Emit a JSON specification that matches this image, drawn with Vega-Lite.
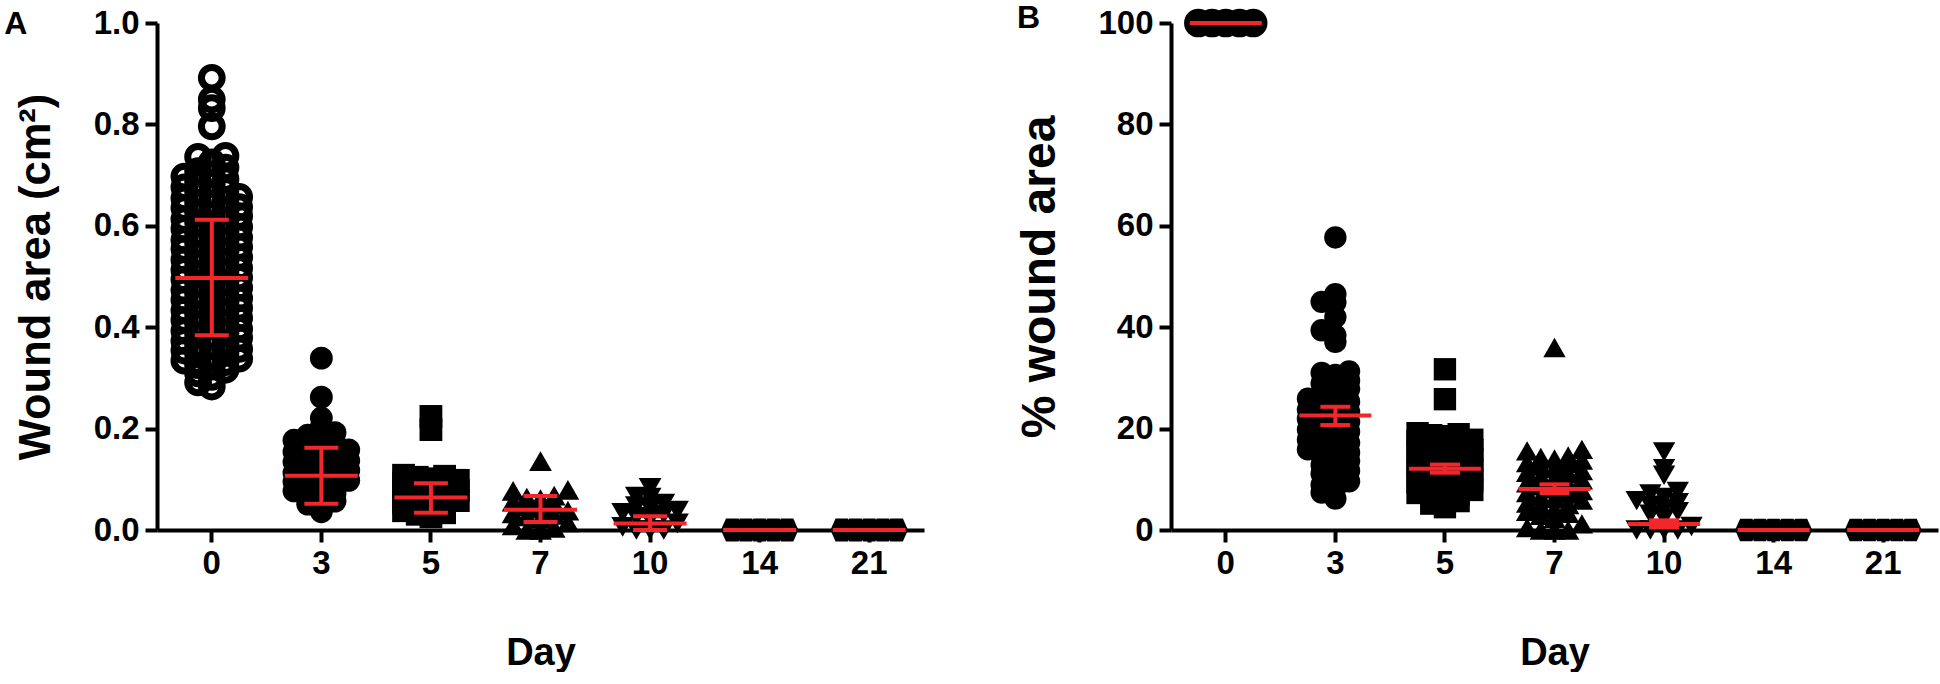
{
  "$schema": "https://vega.github.io/schema/vega-lite/v6.json",
  "padding": {"left": 4, "top": 1, "right": 2, "bottom": 0},
  "spacing": 92,
  "datasets": {
    "ptsA": [
      {"day":0,"value":0.283},{"day":0,"value":0.291},
      {"day":0,"value":0.302},{"day":0,"value":0.309},{"day":0,"value":0.316},
      {"day":0,"value":0.322},{"day":0,"value":0.325},{"day":0,"value":0.331},{"day":0,"value":0.334},{"day":0,"value":0.338},
      {"day":0,"value":0.341},{"day":0,"value":0.347},{"day":0,"value":0.349},{"day":0,"value":0.354},{"day":0,"value":0.357},
      {"day":0,"value":0.362},{"day":0,"value":0.364},{"day":0,"value":0.368},{"day":0,"value":0.373},{"day":0,"value":0.379},
      {"day":0,"value":0.381},{"day":0,"value":0.386},{"day":0,"value":0.389},{"day":0,"value":0.393},{"day":0,"value":0.397},
      {"day":0,"value":0.401},{"day":0,"value":0.406},{"day":0,"value":0.409},{"day":0,"value":0.414},{"day":0,"value":0.418},
      {"day":0,"value":0.422},{"day":0,"value":0.425},{"day":0,"value":0.431},{"day":0,"value":0.433},{"day":0,"value":0.438},
      {"day":0,"value":0.441},{"day":0,"value":0.445},{"day":0,"value":0.449},{"day":0,"value":0.454},{"day":0,"value":0.457},
      {"day":0,"value":0.463},{"day":0,"value":0.466},{"day":0,"value":0.47},{"day":0,"value":0.473},{"day":0,"value":0.478},
      {"day":0,"value":0.481},{"day":0,"value":0.486},{"day":0,"value":0.489},{"day":0,"value":0.494},{"day":0,"value":0.498},
      {"day":0,"value":0.502},{"day":0,"value":0.505},{"day":0,"value":0.51},{"day":0,"value":0.513},{"day":0,"value":0.517},
      {"day":0,"value":0.521},{"day":0,"value":0.526},{"day":0,"value":0.529},{"day":0,"value":0.533},{"day":0,"value":0.538},
      {"day":0,"value":0.542},{"day":0,"value":0.545},{"day":0,"value":0.549},{"day":0,"value":0.554},{"day":0,"value":0.558},
      {"day":0,"value":0.561},{"day":0,"value":0.566},{"day":0,"value":0.57},{"day":0,"value":0.572},{"day":0,"value":0.577},
      {"day":0,"value":0.582},{"day":0,"value":0.585},{"day":0,"value":0.589},{"day":0,"value":0.594},{"day":0,"value":0.598},
      {"day":0,"value":0.602},{"day":0,"value":0.607},{"day":0,"value":0.61},{"day":0,"value":0.613},{"day":0,"value":0.619},
      {"day":0,"value":0.621},{"day":0,"value":0.626},{"day":0,"value":0.629},{"day":0,"value":0.635},{"day":0,"value":0.637},
      {"day":0,"value":0.642},{"day":0,"value":0.645},{"day":0,"value":0.651},{"day":0,"value":0.654},{"day":0,"value":0.657},
      {"day":0,"value":0.662},{"day":0,"value":0.667},{"day":0,"value":0.671},{"day":0,"value":0.676},
      {"day":0,"value":0.683},{"day":0,"value":0.686},{"day":0,"value":0.692},{"day":0,"value":0.697},
      {"day":0,"value":0.702},{"day":0,"value":0.708},{"day":0,"value":0.715},
      {"day":0,"value":0.725},{"day":0,"value":0.736},{"day":0,"value":0.738},
      {"day":0,"value":0.796},{"day":0,"value":0.832},{"day":0,"value":0.849},{"day":0,"value":0.892},

      {"day":3,"value":0.036},
      {"day":3,"value":0.044},{"day":3,"value":0.051},{"day":3,"value":0.057},
      {"day":3,"value":0.063},{"day":3,"value":0.069},{"day":3,"value":0.072},{"day":3,"value":0.077},
      {"day":3,"value":0.082},{"day":3,"value":0.087},{"day":3,"value":0.09},{"day":3,"value":0.095},{"day":3,"value":0.098},
      {"day":3,"value":0.102},{"day":3,"value":0.106},{"day":3,"value":0.111},{"day":3,"value":0.113},{"day":3,"value":0.118},
      {"day":3,"value":0.121},{"day":3,"value":0.126},{"day":3,"value":0.129},{"day":3,"value":0.134},{"day":3,"value":0.137},
      {"day":3,"value":0.142},{"day":3,"value":0.145},{"day":3,"value":0.151},{"day":3,"value":0.154},{"day":3,"value":0.158},
      {"day":3,"value":0.163},{"day":3,"value":0.167},{"day":3,"value":0.171},{"day":3,"value":0.177},
      {"day":3,"value":0.183},{"day":3,"value":0.187},{"day":3,"value":0.192},
      {"day":3,"value":0.204},{"day":3,"value":0.221},{"day":3,"value":0.262},{"day":3,"value":0.339},

      {"day":5,"value":0.026},{"day":5,"value":0.031},{"day":5,"value":0.034},{"day":5,"value":0.038},
      {"day":5,"value":0.042},{"day":5,"value":0.047},{"day":5,"value":0.05},{"day":5,"value":0.053},{"day":5,"value":0.058},
      {"day":5,"value":0.062},{"day":5,"value":0.065},{"day":5,"value":0.071},{"day":5,"value":0.074},{"day":5,"value":0.078},
      {"day":5,"value":0.081},{"day":5,"value":0.086},{"day":5,"value":0.089},{"day":5,"value":0.093},{"day":5,"value":0.098},
      {"day":5,"value":0.101},{"day":5,"value":0.104},{"day":5,"value":0.106},{"day":5,"value":0.108},
      {"day":5,"value":0.198},{"day":5,"value":0.224},

      {"day":7,"value":0},{"day":7,"value":0},{"day":7,"value":0.004},{"day":7,"value":0.009},{"day":7,"value":0.015},
      {"day":7,"value":0.022},{"day":7,"value":0.027},{"day":7,"value":0.03},{"day":7,"value":0.033},{"day":7,"value":0.038},
      {"day":7,"value":0.042},{"day":7,"value":0.047},{"day":7,"value":0.051},{"day":7,"value":0.056},
      {"day":7,"value":0.061},{"day":7,"value":0.064},{"day":7,"value":0.068},{"day":7,"value":0.077},{"day":7,"value":0.079},
      {"day":7,"value":0.136},

      {"day":10,"value":0},{"day":10,"value":0},{"day":10,"value":0},{"day":10,"value":0.006},{"day":10,"value":0.013},
      {"day":10,"value":0.022},{"day":10,"value":0.026},{"day":10,"value":0.031},{"day":10,"value":0.034},{"day":10,"value":0.038},
      {"day":10,"value":0.043},{"day":10,"value":0.047},{"day":10,"value":0.052},
      {"day":10,"value":0.064},{"day":10,"value":0.066},{"day":10,"value":0.083},

      {"day":14,"value":0},{"day":14,"value":0},{"day":14,"value":0},{"day":14,"value":0},{"day":14,"value":0},
      {"day":21,"value":0},{"day":21,"value":0},{"day":21,"value":0},{"day":21,"value":0},{"day":21,"value":0}
    ],
    "statA": [
      {"day":0,"mean":0.497,"lo":0.384,"hi":0.612},
      {"day":3,"mean":0.107,"lo":0.052,"hi":0.162},
      {"day":5,"mean":0.064,"lo":0.034,"hi":0.092},
      {"day":7,"mean":0.040,"lo":0.016,"hi":0.067},
      {"day":10,"mean":0.013,"lo":0.0,"hi":0.027},
      {"day":14,"mean":0,"lo":0,"hi":0},
      {"day":21,"mean":0,"lo":0,"hi":0}
    ],
    "ptsB": [
      {"day":0,"value":100},{"day":0,"value":100},{"day":0,"value":100},{"day":0,"value":100},{"day":0,"value":100},

      {"day":3,"value":6.2},{"day":3,"value":7.4},
      {"day":3,"value":8.3},{"day":3,"value":8.9},{"day":3,"value":9.6},
      {"day":3,"value":10.4},{"day":3,"value":11.1},{"day":3,"value":11.7},
      {"day":3,"value":12.3},{"day":3,"value":12.8},{"day":3,"value":13.6},
      {"day":3,"value":14.2},{"day":3,"value":14.6},{"day":3,"value":15.3},{"day":3,"value":15.9},
      {"day":3,"value":16.1},{"day":3,"value":16.8},{"day":3,"value":17.2},{"day":3,"value":17.8},
      {"day":3,"value":18.3},{"day":3,"value":18.7},{"day":3,"value":19.4},{"day":3,"value":19.8},
      {"day":3,"value":20.2},{"day":3,"value":20.9},{"day":3,"value":21.3},{"day":3,"value":21.9},
      {"day":3,"value":22.1},{"day":3,"value":22.8},{"day":3,"value":23.3},{"day":3,"value":23.7},
      {"day":3,"value":24.4},{"day":3,"value":24.8},{"day":3,"value":25.3},{"day":3,"value":25.9},
      {"day":3,"value":26.4},{"day":3,"value":27.1},{"day":3,"value":27.8},
      {"day":3,"value":28.2},{"day":3,"value":28.9},{"day":3,"value":29.5},
      {"day":3,"value":30.6},{"day":3,"value":31.0},{"day":3,"value":31.3},
      {"day":3,"value":37.1},{"day":3,"value":38.4},{"day":3,"value":39.4},{"day":3,"value":42.0},
      {"day":3,"value":44.9},{"day":3,"value":45.0},{"day":3,"value":46.5},{"day":3,"value":57.7},

      {"day":5,"value":4.5},{"day":5,"value":5.2},{"day":5,"value":5.7},
      {"day":5,"value":6.1},{"day":5,"value":6.7},{"day":5,"value":7.0},{"day":5,"value":7.3},{"day":5,"value":7.9},
      {"day":5,"value":8.2},{"day":5,"value":8.5},{"day":5,"value":9.1},{"day":5,"value":9.4},{"day":5,"value":9.8},
      {"day":5,"value":10.3},{"day":5,"value":10.6},{"day":5,"value":11.0},{"day":5,"value":11.5},{"day":5,"value":11.8},
      {"day":5,"value":12.1},{"day":5,"value":12.7},{"day":5,"value":13.0},{"day":5,"value":13.3},{"day":5,"value":13.9},
      {"day":5,"value":14.2},{"day":5,"value":14.5},{"day":5,"value":15.1},{"day":5,"value":15.4},{"day":5,"value":15.8},
      {"day":5,"value":16.3},{"day":5,"value":16.6},{"day":5,"value":16.9},{"day":5,"value":17.5},{"day":5,"value":17.8},
      {"day":5,"value":18.5},{"day":5,"value":18.7},{"day":5,"value":18.9},{"day":5,"value":19.1},
      {"day":5,"value":25.8},{"day":5,"value":31.7},

      {"day":7,"value":0},{"day":7,"value":0},{"day":7,"value":0},{"day":7,"value":0.5},{"day":7,"value":1.2},
      {"day":7,"value":2.3},{"day":7,"value":2.9},{"day":7,"value":3.3},{"day":7,"value":3.7},
      {"day":7,"value":4.1},{"day":7,"value":4.7},{"day":7,"value":5.0},{"day":7,"value":5.3},{"day":7,"value":5.9},
      {"day":7,"value":6.2},{"day":7,"value":6.5},{"day":7,"value":7.1},{"day":7,"value":7.4},{"day":7,"value":7.8},
      {"day":7,"value":8.1},{"day":7,"value":8.7},{"day":7,"value":9.0},{"day":7,"value":9.3},{"day":7,"value":9.9},
      {"day":7,"value":10.2},{"day":7,"value":10.5},{"day":7,"value":11.1},{"day":7,"value":11.4},{"day":7,"value":11.7},
      {"day":7,"value":12.1},{"day":7,"value":12.6},{"day":7,"value":13.1},{"day":7,"value":13.3},{"day":7,"value":13.8},
      {"day":7,"value":14.0},{"day":7,"value":14.3},{"day":7,"value":14.6},{"day":7,"value":15.6},{"day":7,"value":15.9},
      {"day":7,"value":36.0},

      {"day":10,"value":0},{"day":10,"value":0},{"day":10,"value":0},{"day":10,"value":0},{"day":10,"value":0.7},
      {"day":10,"value":2.4},{"day":10,"value":3.1},{"day":10,"value":3.6},
      {"day":10,"value":4.3},{"day":10,"value":4.9},{"day":10,"value":5.4},{"day":10,"value":5.8},
      {"day":10,"value":6.4},{"day":10,"value":7.1},{"day":10,"value":7.6},
      {"day":10,"value":10.8},{"day":10,"value":12.1},{"day":10,"value":15.4},

      {"day":14,"value":0},{"day":14,"value":0},{"day":14,"value":0},{"day":14,"value":0},{"day":14,"value":0},
      {"day":21,"value":0},{"day":21,"value":0},{"day":21,"value":0},{"day":21,"value":0},{"day":21,"value":0}
    ],
    "statB": [
      {"day":0,"mean":100,"lo":100,"hi":100},
      {"day":3,"mean":22.6,"lo":20.7,"hi":24.3},
      {"day":5,"mean":12.1,"lo":11.3,"hi":12.9},
      {"day":7,"mean":8.1,"lo":7.3,"hi":9.0},
      {"day":10,"mean":1.2,"lo":0.5,"hi":1.9},
      {"day":14,"mean":0,"lo":0,"hi":0},
      {"day":21,"mean":0,"lo":0,"hi":0}
    ]
  },
  "hconcat": [
    {
      "title": {"text": "A", "offset": -34, "dx": -10},
      "width": 767,
      "height": 507,
      "layer": [
        {
          "data": {"name": "ptsA"},
          "transform": [
            {"filter": {"field": "day", "equal": 0}},
            {"bin": {"step": 0.02, "anchor": 0}, "field": "value", "as": "vb"},
            {"window": [{"op": "row_number", "as": "rank"}], "groupby": ["day", "vb"], "sort": [{"field": "value", "order": "ascending"}]}
          ],
          "mark": {"type": "point", "shape": "circle", "filled": false, "stroke": "black", "strokeWidth": 7, "size": 430, "opacity": 1},
          "encoding": {
            "x": {"field": "day", "type": "ordinal", "title": "Day", "scale": {"domain": [0,3,5,7,10,14,21], "paddingInner": 0, "paddingOuter": 0}},
            "xOffset": {"field": "rank", "type": "ordinal", "scale": {"domain": [8,6,4,2,1,3,5,7,9], "paddingInner": 0, "paddingOuter": 0}},
            "y": {"field": "value", "type": "quantitative", "title": "Wound area (cm²)", "scale": {"domain": [0, 1]}, "axis": {"values": [0,0.2,0.4,0.6,0.8,1.0], "format": ".1f", "titleFontSize": 43.5}}
          }
        },
        {
          "data": {"name": "ptsA"},
          "transform": [
            {"filter": {"not": {"field": "day", "equal": 0}}},
            {"bin": {"step": 0.02, "anchor": 0}, "field": "value", "as": "vb"},
            {"window": [{"op": "row_number", "as": "rank"}], "groupby": ["day", "vb"], "sort": [{"field": "value", "order": "ascending"}]}
          ],
          "mark": {"type": "point", "filled": true, "color": "black", "size": 520, "opacity": 1},
          "encoding": {
            "x": {"field": "day", "type": "ordinal", "title": "Day"},
            "xOffset": {"field": "rank", "type": "ordinal"},
            "y": {"field": "value", "type": "quantitative", "title": "Wound area (cm²)"},
            "shape": {"field": "day", "type": "ordinal", "legend": null, "scale": {"domain": [3,5,7,10,14,21], "range": ["circle","square","triangle-up","triangle-down","M-1,0L-0.55,-1L0.55,-1L1,0L0.55,1L-0.55,1Z","M-1,0L-0.55,-1L0.55,-1L1,0L0.55,1L-0.55,1Z"]}}
          }
        },
        {
          "data": {"name": "statA"},
          "mark": {"type": "rule", "color": "#f3262c", "strokeWidth": 4},
          "encoding": {
            "x": {"field": "day", "type": "ordinal", "title": "Day"},
            "y": {"field": "lo", "type": "quantitative", "title": "Wound area (cm²)"},
            "y2": {"field": "hi"}
          }
        },
        {
          "data": {"name": "statA"},
          "mark": {"type": "tick", "color": "#f3262c", "size": 73, "thickness": 4, "orient": "horizontal", "opacity": 1},
          "encoding": {
            "x": {"field": "day", "type": "ordinal", "title": "Day"},
            "y": {"field": "mean", "type": "quantitative", "title": "Wound area (cm²)"}
          }
        },
        {
          "data": {"name": "statA"},
          "mark": {"type": "tick", "color": "#f3262c", "size": 34, "thickness": 4, "orient": "horizontal", "opacity": 1},
          "encoding": {
            "x": {"field": "day", "type": "ordinal", "title": "Day"},
            "y": {"field": "lo", "type": "quantitative", "title": "Wound area (cm²)"}
          }
        },
        {
          "data": {"name": "statA"},
          "mark": {"type": "tick", "color": "#f3262c", "size": 34, "thickness": 4, "orient": "horizontal", "opacity": 1},
          "encoding": {
            "x": {"field": "day", "type": "ordinal", "title": "Day"},
            "y": {"field": "hi", "type": "quantitative", "title": "Wound area (cm²)"}
          }
        }
      ]
    },
    {
      "title": {"text": "B", "offset": -34},
      "width": 767,
      "height": 507,
      "layer": [
        {
          "data": {"name": "ptsB"},
          "transform": [
            {"filter": {"field": "day", "equal": 0}},
            {"bin": {"step": 2, "anchor": 0}, "field": "value", "as": "vb"},
            {"window": [{"op": "row_number", "as": "rank"}], "groupby": ["day", "vb"], "sort": [{"field": "value", "order": "ascending"}]}
          ],
          "mark": {"type": "point", "shape": "circle", "filled": true, "color": "black", "stroke": "black", "strokeWidth": 5, "size": 560, "opacity": 1},
          "encoding": {
            "x": {"field": "day", "type": "ordinal", "title": "Day", "scale": {"domain": [0,3,5,7,10,14,21], "paddingInner": 0, "paddingOuter": 0}},
            "xOffset": {"field": "rank", "type": "ordinal", "scale": {"domain": [8,6,4,2,1,3,5,7,9], "paddingInner": 0, "paddingOuter": 0}},
            "y": {"field": "value", "type": "quantitative", "title": "% wound area", "scale": {"domain": [0, 100]}, "axis": {"values": [0,20,40,60,80,100], "format": "d", "titleFontSize": 48, "titlePadding": 33}}
          }
        },
        {
          "data": {"name": "ptsB"},
          "transform": [
            {"filter": {"not": {"field": "day", "equal": 0}}},
            {"bin": {"step": 2, "anchor": 0}, "field": "value", "as": "vb"},
            {"window": [{"op": "row_number", "as": "rank"}], "groupby": ["day", "vb"], "sort": [{"field": "value", "order": "ascending"}]}
          ],
          "mark": {"type": "point", "filled": true, "color": "black", "size": 500, "opacity": 1},
          "encoding": {
            "x": {"field": "day", "type": "ordinal", "title": "Day"},
            "xOffset": {"field": "rank", "type": "ordinal"},
            "y": {"field": "value", "type": "quantitative", "title": "% wound area"},
            "shape": {"field": "day", "type": "ordinal", "legend": null, "scale": {"domain": [3,5,7,10,14,21], "range": ["circle","square","triangle-up","triangle-down","M-1,0L-0.55,-1L0.55,-1L1,0L0.55,1L-0.55,1Z","M-1,0L-0.55,-1L0.55,-1L1,0L0.55,1L-0.55,1Z"]}}
          }
        },
        {
          "data": {"name": "statB"},
          "mark": {"type": "rule", "color": "#f3262c", "strokeWidth": 4},
          "encoding": {
            "x": {"field": "day", "type": "ordinal", "title": "Day"},
            "y": {"field": "lo", "type": "quantitative", "title": "% wound area"},
            "y2": {"field": "hi"}
          }
        },
        {
          "data": {"name": "statB"},
          "mark": {"type": "tick", "color": "#f3262c", "size": 72, "thickness": 4, "orient": "horizontal", "opacity": 1},
          "encoding": {
            "x": {"field": "day", "type": "ordinal", "title": "Day"},
            "y": {"field": "mean", "type": "quantitative", "title": "% wound area"}
          }
        },
        {
          "data": {"name": "statB"},
          "mark": {"type": "tick", "color": "#f3262c", "size": 30, "thickness": 4, "orient": "horizontal", "opacity": 1},
          "encoding": {
            "x": {"field": "day", "type": "ordinal", "title": "Day"},
            "y": {"field": "lo", "type": "quantitative", "title": "% wound area"}
          }
        },
        {
          "data": {"name": "statB"},
          "mark": {"type": "tick", "color": "#f3262c", "size": 30, "thickness": 4, "orient": "horizontal", "opacity": 1},
          "encoding": {
            "x": {"field": "day", "type": "ordinal", "title": "Day"},
            "y": {"field": "hi", "type": "quantitative", "title": "% wound area"}
          }
        }
      ]
    }
  ],
  "config": {
    "view": {"stroke": null},
    "font": "Liberation Sans",
    "axis": {
      "domainColor": "black", "domainWidth": 4, "tickColor": "black", "tickWidth": 4, "tickSize": 12,
      "labelFont": "Liberation Sans", "labelFontWeight": "bold", "labelFontSize": 33, "labelColor": "black",
      "titleFont": "Liberation Sans", "titleFontWeight": "bold", "titleFontSize": 42, "titleColor": "black",
      "grid": false
    },
    "axisX": {"labelAngle": 0, "labelPadding": 5, "titlePadding": 54, "titleFontSize": 38},
    "axisY": {"labelPadding": 6, "titlePadding": 35},
    "title": {"font": "Liberation Sans", "fontWeight": "bold", "fontSize": 32, "color": "black", "anchor": "start", "frame": "bounds"}
  }
}
